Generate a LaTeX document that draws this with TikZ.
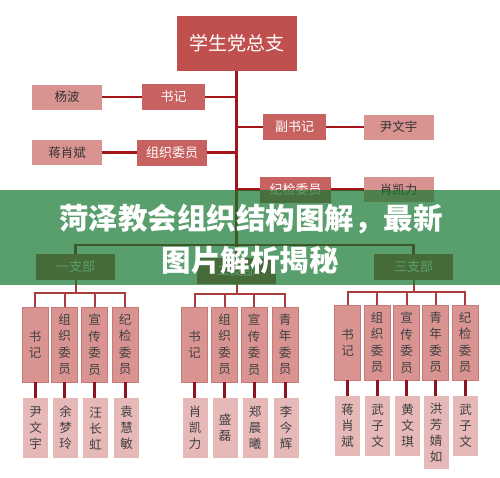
\documentclass[tikz,border=0pt]{standalone}
\usepackage{fontspec}
\newfontfamily\cjk{Noto Sans CJK SC}
\definecolor{topred}{RGB}{192,80,77}
\definecolor{rolered}{RGB}{200,98,96}
\definecolor{namepink}{RGB}{217,148,146}
\definecolor{vborder}{RGB}{200,120,118}
\definecolor{lightpink}{RGB}{230,184,183}
\definecolor{linered}{RGB}{165,20,25}
\definecolor{subline}{RGB}{170,60,60}
\definecolor{shortline}{RGB}{140,20,30}
\definecolor{bannergreen}{RGB}{19,119,48}
\tikzset{
  box/.style={draw=none, inner sep=0pt, outer sep=0pt},
  topbox/.style={box, fill=topred, text=white, minimum width=120pt, minimum height=55pt, font=\cjk\fontsize{19}{19}\selectfont},
  rolebox/.style={box, fill=rolered, text=white, minimum height=26pt, font=\cjk\fontsize{13}{13}\selectfont},
  namebox/.style={box, fill=namepink, text=black!80, minimum width=70pt, minimum height=25pt, font=\cjk\fontsize{12.5}{12.5}\selectfont},
  branchbox/.style={box, fill=topred, text=white, minimum width=79pt, minimum height=26pt, font=\cjk\fontsize{13}{13}\selectfont},
  vbox/.style={box, fill=namepink, draw=vborder, line width=0.6pt, minimum width=26pt, minimum height=75pt, align=center, text=black!75, font=\cjk\fontsize{12.5}{16.5}\selectfont},
  lbox/.style={box, fill=lightpink, minimum width=25pt, minimum height=60pt, align=center, text=black!75, font=\cjk\fontsize{12.5}{16}\selectfont},
  mainline/.style={draw=linered, line width=2.4pt},
  subbar/.style={draw=subline, line width=2pt},
  shortconn/.style={draw=shortline, line width=3pt},
}
\begin{document}
\begin{tikzpicture}[x=1pt,y=-1pt]
\useasboundingbox (0,0) rectangle (500,477);
\fill[white] (0,0) rectangle (500,477);

% top level
\node[topbox] (top) at (236.5,43.5) {学生党总支};
% role boxes
\node[rolebox, minimum width=63pt] (shuji) at (173.5,97) {书记};
\node[rolebox, minimum width=63pt] (fushuji) at (294.5,127) {副书记};
\node[rolebox, minimum width=70pt] (zuzhi) at (172,152.5) {组织委员};
\node[rolebox, minimum width=71pt] (jijian) at (295.5,189.5) {纪检委员};
% name boxes
\node[namebox] (yangbo) at (67,97) {杨波};
\node[namebox] (yinwy) at (398.5,127) {尹文宇};
\node[namebox] (jiangxb) at (67,152.5) {蒋肖斌};
\node[namebox] (xiaokl) at (398.5,189.5) {肖凯力};
% branches
\node[branchbox] (b1) at (75.5,267) {一支部};
\node[branchbox] (b2) at (236.5,270.5) {二支部};
\node[branchbox] (b3) at (413.5,267) {三支部};
\coordinate (bar) at (236.5,245);

% top connectors
\draw[mainline] (top.south) -- (b2.north);
\draw[mainline] (yangbo.east) -- (shuji.west);
\draw[mainline] (shuji.east) -- (shuji.east -| top.south);
\draw[mainline] (fushuji.west -| top.south) -- (fushuji.west);
\draw[mainline] (fushuji.east) -- (yinwy.west);
\draw[mainline] (jiangxb.east) -- (zuzhi.west);
\draw[mainline] (zuzhi.east) -- (zuzhi.east -| top.south);
\draw[mainline] (jijian.west -| top.south) -- (jijian.west);
\draw[mainline] (jijian.east) -- (xiaokl.west);
\draw[mainline] (b1.north) |- (bar) -| (b3.north);

% branch 1
\node[vbox] (a1) at (35,344.5) {书\\记};
\node[vbox] (a2) at (64.5,344.5) {组\\织\\委\\员};
\node[vbox] (a3) at (94.5,344.5) {宣\\传\\委\\员};
\node[vbox] (a4) at (125,344.5) {纪\\检\\委\\员};
\node[lbox] (m1) at (35.5,428) {尹\\文\\宇};
\node[lbox] (m2) at (65.5,428) {余\\梦\\玲};
\node[lbox] (m3) at (95.5,428) {汪\\长\\虹};
\node[lbox] (m4) at (126.5,428) {袁\\慧\\敏};
% branch 2
\node[vbox] (c1) at (194.5,344.5) {书\\记};
\node[vbox] (c2) at (224.5,344.5) {组\\织\\委\\员};
\node[vbox] (c3) at (254,344.5) {宣\\传\\委\\员};
\node[vbox] (c4) at (285,344.5) {青\\年\\委\\员};
\node[lbox] (n1) at (195,428) {肖\\凯\\力};
\node[lbox] (n2) at (225,428) {盛\\磊};
\node[lbox] (n3) at (255,428) {郑\\晨\\曦};
\node[lbox] (n4) at (286,428) {李\\今\\辉};
% branch 3
\node[vbox] (d1) at (347.5,342.5) {书\\记};
\node[vbox] (d2) at (377,342.5) {组\\织\\委\\员};
\node[vbox] (d3) at (406.5,342.5) {宣\\传\\委\\员};
\node[vbox] (d4) at (435.5,342.5) {青\\年\\委\\员};
\node[vbox] (d5) at (465,342.5) {纪\\检\\委\\员};
\node[lbox] (p1) at (347.5,426) {蒋\\肖\\斌};
\node[lbox] (p2) at (377.5,426) {武\\子\\文};
\node[lbox] (p3) at (407.5,426) {黄\\文\\琪};
\node[lbox, minimum height=73pt] (p4) at (436,432.5) {洪\\芳\\婧\\如};
\node[lbox] (p5) at (465.5,426) {武\\子\\文};

% sub bars
\coordinate (sb1) at (75.5,293);
\coordinate (sb2) at (236.5,294);
\coordinate (sb3) at (413.5,292);
\draw[subbar] (b1.south) -- (sb1);
\draw[subbar] (a1.north) |- (sb1) -| (a4.north);
\draw[subbar] (a2.north) -- (a2.north |- sb1);
\draw[subbar] (a3.north) -- (a3.north |- sb1);
\draw[subbar] (b2.south) -- (sb2);
\draw[subbar] (c1.north) |- (sb2) -| (c4.north);
\draw[subbar] (c2.north) -- (c2.north |- sb2);
\draw[subbar] (c3.north) -- (c3.north |- sb2);
\draw[subbar] (b3.south) -- (sb3);
\draw[subbar] (d1.north) |- (sb3) -| (d5.north);
\draw[subbar] (d2.north) -- (d2.north |- sb3);
\draw[subbar] (d3.north) -- (d3.north |- sb3);
\draw[subbar] (d4.north) -- (d4.north |- sb3);

% short connectors
\foreach \u/\l in {a1/m1,a2/m2,a3/m3,a4/m4,c1/n1,c2/n2,c3/n3,c4/n4,d1/p1,d2/p2,d3/p3,d4/p4,d5/p5}
  \draw[shortconn] (\u.south) -- (\u.south |- \l.north);

% banner
\fill[bannergreen, fill opacity=0.7] (0,190) rectangle (500,285);
\node[text=white, font=\cjk\bfseries\fontsize{29.5}{29.5}\selectfont, inner sep=0pt] (t1) at (251,219) {菏泽教会组织结构图解，最新};
\node[text=white, font=\cjk\bfseries\fontsize{29.5}{29.5}\selectfont, inner sep=0pt] (t2) at (250,260) {图片解析揭秘};
\end{tikzpicture}
\end{document}
